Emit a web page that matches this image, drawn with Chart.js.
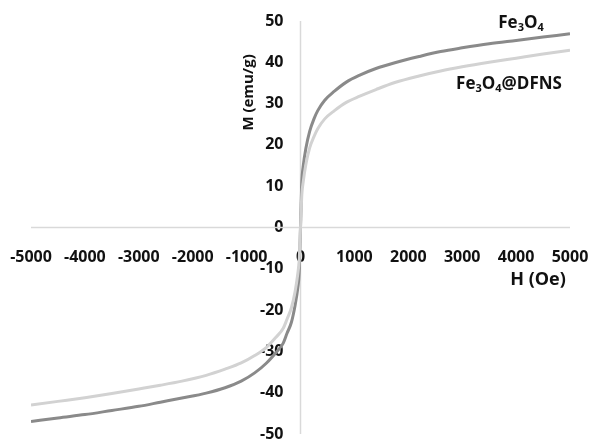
<!DOCTYPE html>
<html>
<head>
<meta charset="utf-8">
<script src="https://cdn.jsdelivr.net/npm/chart.js@4/dist/chart.umd.min.js"></script>
<style>
  html, body { margin: 0; padding: 0; background: #fff; }
  #box { width: 592px; height: 439px; }
</style>
</head>
<body>
<div id="box"><canvas id="hysteresis"></canvas></div>
<script>
// Champ appliqué H (Oe)
const fieldH = [-5000, -4500, -4000, -3500, -3000, -2600, -2200, -1750, -1400, -1100, -850, -630, -450, -320, -250, -170, -100, -50, -25, 0,
                25, 50, 100, 170, 250, 320, 450, 630, 850, 1100, 1400, 1750, 2200, 2600, 3000, 3500, 4000, 4500, 5000];

// Aimantation M (emu/g)
const magFe3O4 = [-47.0, -46.1, -45.3, -44.3, -43.3, -42.3, -41.3, -40.1, -38.8, -37.2, -35.2, -32.8, -30.2, -28.0, -25.6, -23.0, -18.8, -14.6, -11.0, 0,
                  11.2, 14.8, 19.2, 23.3, 26.3, 28.3, 30.8, 33.0, 35.2, 36.9, 38.5, 39.9, 41.4, 42.6, 43.5, 44.5, 45.3, 46.1, 46.9];
const magDFNS = [-43.0, -42.1, -41.2, -40.2, -39.1, -38.2, -37.2, -35.8, -34.3, -32.8, -31.0, -29.0, -26.5, -24.4, -22.2, -19.5, -15.5, -11.2, -8.0, 0,
                 8.0, 11.0, 15.3, 19.3, 22.0, 23.9, 26.3, 28.3, 30.3, 31.8, 33.4, 35.1, 36.7, 37.9, 38.9, 40.0, 41.0, 42.0, 42.9];

const xTicks = [-5000, -4000, -3000, -2000, -1000, 0, 1000, 2000, 3000, 4000, 5000];
const yTicks = [-50, -40, -30, -20, -10, 0, 10, 20, 30, 40, 50];

const FONT = '"Open Sans", "DejaVu Sans", sans-serif';
const INK = '#111111';
const AXIS = '#d9d9d9';

function points(ys) {
    return fieldH.map((h, i) => ({ x: h, y: ys[i] }));
}

// texte avec indices (Fe3O4 ...)
function drawFormula(ctx, parts, cx, cy, size) {
    const big = 'bold ' + size + 'px ' + FONT;
    const small = 'bold ' + Math.round(size * 0.65) + 'px ' + FONT;
    let total = 0;
    parts.forEach(p => {
        ctx.font = p[1] ? small : big;
        total += ctx.measureText(p[0]).width;
    });
    let x = cx - total / 2;
    ctx.textAlign = 'left';
    ctx.textBaseline = 'middle';
    parts.forEach(p => {
        ctx.font = p[1] ? small : big;
        ctx.fillText(p[0], x, p[1] ? cy + size * 0.3 : cy);
        x += ctx.measureText(p[0]).width;
    });
}

// axes croisés en (0,0) ; l'axe Y est déplacé sur H = 0
const crossAxes = {
    id: 'crossAxes',
    afterLayout(chart) {
        const sy = chart.scales.y;
        sy.left = 0;
        sy.right = chart.scales.x.getPixelForValue(0);
    },
    beforeDatasetsDraw(chart) {
        const ctx = chart.ctx, a = chart.chartArea;
        const x0 = chart.scales.x.getPixelForValue(0);
        const y0 = chart.scales.y.getPixelForValue(0);
        ctx.save();
        ctx.strokeStyle = AXIS;
        ctx.lineWidth = 1.5;
        ctx.beginPath();
        ctx.moveTo(a.left, y0);
        ctx.lineTo(a.right, y0);
        ctx.moveTo(x0, a.top);
        ctx.lineTo(x0, a.bottom);
        ctx.stroke();
        ctx.restore();
    }
};

const labelsPlugin = {
    id: 'axisLabels',
    afterDraw(chart) {
        const ctx = chart.ctx;
        const sx = chart.scales.x, sy = chart.scales.y;
        ctx.save();
        ctx.fillStyle = INK;

        // titres des axes
        ctx.font = 'bold 18px ' + FONT;
        ctx.textAlign = 'center';
        ctx.textBaseline = 'middle';
        ctx.fillText('H (Oe)', sx.getPixelForValue(4406), sy.getPixelForValue(-12.7));

        ctx.save();
        ctx.translate(sx.getPixelForValue(-967), sy.getPixelForValue(32.7));
        ctx.rotate(-Math.PI / 2);
        ctx.font = 'bold 15px ' + FONT;
        ctx.fillText('M (emu/g)', 0, 0);
        ctx.restore();

        // noms des courbes
        drawFormula(ctx, [['Fe', 0], ['3', 1], ['O', 0], ['4', 1]],
            sx.getPixelForValue(4091), sy.getPixelForValue(49.5), 17);
        drawFormula(ctx, [['Fe', 0], ['3', 1], ['O', 0], ['4', 1], ['@DFNS', 0]],
            sx.getPixelForValue(3868), sy.getPixelForValue(34.7), 17);
        ctx.restore();
    }
};

// les axes ne doivent pas réduire la zone de tracé
function noSpace(scale) {
    if (scale.isHorizontal()) scale.height = 0; else scale.width = 0;
    scale.paddingLeft = scale.paddingRight = scale.paddingTop = scale.paddingBottom = 0;
}

const tickFont = { family: FONT, size: 16, weight: 'bold' };

const ctx = document.getElementById('hysteresis').getContext('2d');
new Chart(ctx, {
    type: 'scatter',
    data: {
        datasets: [{
            label: 'Fe3O4',
            data: points(magFe3O4),
            showLine: true,
            borderColor: '#8a8a8a',
            borderWidth: 3,
            pointRadius: 0,
            cubicInterpolationMode: 'monotone',
            order: 1
        }, {
            label: 'Fe3O4@DFNS',
            data: points(magDFNS),
            showLine: true,
            borderColor: '#d2d2d2',
            borderWidth: 3,
            pointRadius: 0,
            cubicInterpolationMode: 'monotone',
            order: 0
        }]
    },
    options: {
        responsive: true,
        maintainAspectRatio: false,
        animation: false,
        layout: { padding: { left: 31, right: 22, top: 21, bottom: 5 } },
        plugins: { legend: { display: false }, tooltip: { enabled: false } },
        scales: {
            x: {
                type: 'linear',
                min: -5000,
                max: 5000,
                position: { y: 0 },
                grid: { display: false, drawTicks: false },
                border: { display: false },
                afterBuildTicks: axis => { axis.ticks = xTicks.map(v => ({ value: v })); },
                afterFit: noSpace,
                ticks: { autoSkip: false, maxRotation: 0, padding: 20, color: INK, font: tickFont,
                         callback: v => String(v) }
            },
            y: {
                type: 'linear',
                min: -50,
                max: 50,
                position: 'left',
                grid: { display: false, drawTicks: false },
                border: { display: false },
                afterBuildTicks: axis => { axis.ticks = yTicks.map(v => ({ value: v })); },
                afterFit: noSpace,
                ticks: { autoSkip: false, padding: 17, color: INK, font: tickFont,
                         callback: v => String(v) }
            }
        }
    },
    plugins: [crossAxes, labelsPlugin]
});
</script>
</body>
</html>
